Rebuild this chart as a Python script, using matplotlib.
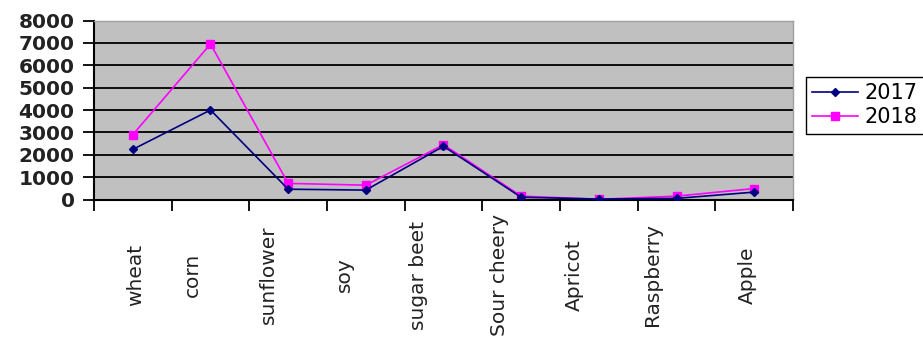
import matplotlib
matplotlib.use("Agg")
import matplotlib.pyplot as plt
from matplotlib.transforms import blended_transform_factory
import numpy as np

categories = ["wheat", "corn", "sunflower", "soy", "sugar beet", "Sour cheery",
              "Apricot", "Raspberry", "Apple"]
values_2017 = [2240, 4000, 460, 420, 2380, 100, 20, 50, 330]
values_2018 = [2900, 6950, 720, 640, 2450, 150, 10, 150, 490]
y_ticks = [0, 1000, 2000, 3000, 4000, 5000, 6000, 7000, 8000]
series_names = ["2017", "2018"]

# label horizontal shift (in category units), mimicking the original layout
label_shift = [0.03, -0.23, -0.26, -0.28, -0.32, -0.28, -0.32, -0.31, -0.09]

fig = plt.figure(figsize=(9.23, 3.38), dpi=100)
ax = fig.add_axes([94/923, 1 - 199.5/338, (793-94)/923, (199.5-20.5)/338])

x = np.arange(len(categories))
ax.set_facecolor("#C0C0C0")
for yv in y_ticks[1:-1]:
    ax.axhline(yv, color="black", lw=1.3, zorder=1)

l1, = ax.plot(x, values_2017, color="#000080", lw=1.2, marker="D", ms=4,
              label=series_names[0], zorder=3)
l2, = ax.plot(x, values_2018, color="#FF00FF", lw=1.2, marker="s", ms=6,
              label=series_names[1], zorder=2)

ax.set_xlim(-0.5, len(categories) - 0.5)
ax.set_ylim(0, 8000)
ax.set_yticks(y_ticks)
ax.set_yticklabels([str(v) for v in y_ticks], fontsize=14.5, fontweight="bold",
                   color="#222222")
ax.set_xticks(np.arange(len(categories) + 1) - 0.5)
ax.set_xticklabels([])
ax.tick_params(axis="x", direction="out", length=8, width=1.3, color="black")
ax.tick_params(axis="y", direction="out", length=8, width=1.3, color="black", pad=6)

for side in ["top", "right"]:
    ax.spines[side].set_color("#A0A0A0")
    ax.spines[side].set_linewidth(1.0)
for side in ["left", "bottom"]:
    ax.spines[side].set_color("black")
    ax.spines[side].set_linewidth(1.5)

trans = blended_transform_factory(ax.transData, fig.transFigure)
for i, (cat, sh) in enumerate(zip(categories, label_shift)):
    ax.text(i + sh, 1 - 275/338, cat, rotation=90, ha="center", va="center",
            fontsize=14.5, color="#222222", transform=trans, clip_on=False)

leg = fig.legend(handles=[l1, l2], labels=series_names, loc="upper left",
                 bbox_to_anchor=(806/923, 1 - 77/338), frameon=True,
                 fancybox=False, edgecolor="black", framealpha=1,
                 fontsize=15, handlelength=2.2, handletextpad=0.3,
                 borderpad=0.3, labelspacing=0.2, borderaxespad=0)
leg.get_frame().set_linewidth(1.0)

fig.savefig("out.png", dpi=100)
